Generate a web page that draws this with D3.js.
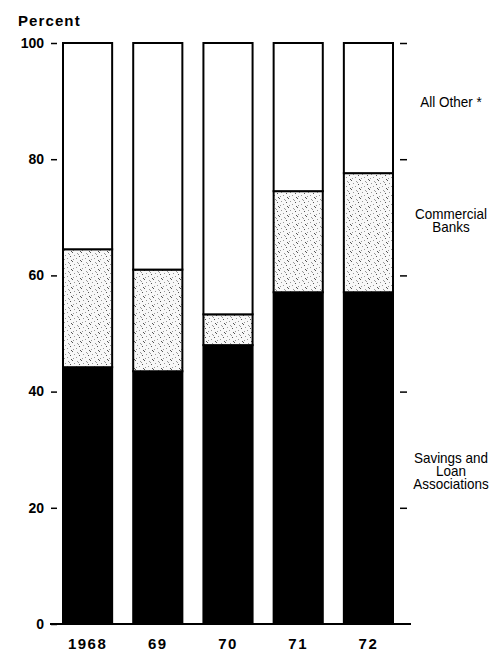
<!DOCTYPE html>
<html lang="en">
<head>
<meta charset="utf-8">
<title>Percent by lender</title>
<script src="https://d3js.org/d3.v7.min.js"></script>
<style>
  body { margin: 0; background: white; }
  .tick text { font-family: "Liberation Sans", Arial, sans-serif; font-size: 14px; font-weight: bold; fill: black; }
  .legend { font-family: "Liberation Sans", Arial, sans-serif; font-size: 15px; fill: black; }
</style>
</head>
<body>
<div id="main"></div>
<script>
var width = 493, height = 651;

var years = ["1968", "69", "70", "71", "72"];
var savingsLoan = [44.2, 43.5, 48.0, 57.1, 57.1];
var commercialBanks = [20.3, 17.5, 5.3, 17.4, 20.5];
var allOther = [35.5, 39.0, 46.7, 25.5, 22.4];
var yTicks = [0, 20, 40, 60, 80, 100];
var legendLines = [["All Other *"], ["Commercial", "Banks"], ["Savings and", "Loan", "Associations"]];
var legendAt = [90, 69.5, 26.5]; // percent level of each label's centre

var svg = d3.select("#main").append("svg")
    .attr("width", width).attr("height", height);

// light stipple for the commercial bank share
var defs = svg.append("defs");
var pat = defs.append("pattern").attr("id", "stip")
    .attr("width", 9).attr("height", 9).attr("patternUnits", "userSpaceOnUse");
pat.append("rect").attr("width", 9).attr("height", 9).attr("fill", "#f8f8f8");
[[0, 0], [5, 1], [2, 3], [7, 4], [4, 6], [1, 7], [8, 8], [6, 2]].forEach(function (p, i) {
  pat.append("rect").attr("x", p[0]).attr("y", p[1]).attr("width", 1).attr("height", 1)
     .attr("fill", i % 3 ? "#999" : "#555");
});

var x = d3.scaleBand().domain(years).range([63, 393]).paddingInner(0.3).paddingOuter(0);
var y = d3.scaleLinear().domain([0, 100]).range([624, 43]);

var rows = years.map(function (yr, i) {
  var s = savingsLoan[i], c = commercialBanks[i];
  return [
    {year: yr, y0: 0, y1: s, fill: "black"},
    {year: yr, y0: s, y1: s + c, fill: "url(#stip)"},
    {year: yr, y0: s + c, y1: 100, fill: "white"}
  ];
});

svg.append("text").attr("x", 18).attr("y", 26)
    .attr("font-family", "Liberation Sans, Arial, sans-serif")
    .attr("font-size", 15).attr("font-weight", "bold").attr("letter-spacing", 1.1)
    .text("Percent");

var bars = svg.append("g").selectAll("g").data(rows).enter().append("g");
bars.selectAll("rect").data(function (d) { return d; }).enter().append("rect")
    .attr("x", function (d) { return x(d.year); })
    .attr("width", x.bandwidth())
    .attr("y", function (d) { return y(d.y1); })
    .attr("height", function (d) { return y(d.y0) - y(d.y1); })
    .attr("fill", function (d) { return d.fill; })
    .attr("stroke", "black").attr("stroke-width", 2);

// left axis
var gl = svg.append("g").attr("transform", "translate(57,0)")
    .call(d3.axisLeft(y).tickValues(yTicks).tickSize(6).tickPadding(7).tickFormat(d3.format("d")));
gl.select(".domain").remove();
gl.selectAll(".tick line").attr("stroke", "black").attr("stroke-width", 1.5);
gl.selectAll(".tick text").attr("dy", "0.3em").attr("font-size", 15);

// right axis, marks only
var gr = svg.append("g").attr("transform", "translate(400,0)")
    .call(d3.axisRight(y).tickValues(yTicks.slice(1)).tickSize(7).tickFormat(""));
gr.select(".domain").remove();
gr.selectAll(".tick line").attr("stroke", "black").attr("stroke-width", 1.5);

// baseline
svg.append("line")
    .attr("x1", x.range()[0] - 13).attr("x2", x.range()[1] + 18)
    .attr("y1", y(0)).attr("y2", y(0))
    .attr("stroke", "black").attr("stroke-width", 2);

// year labels
svg.append("g").selectAll("text").data(years).enter().append("text")
    .attr("x", function (d) { return x(d) + x.bandwidth() / 2; })
    .attr("y", 649)
    .attr("text-anchor", "middle")
    .attr("font-family", "Liberation Sans, Arial, sans-serif")
    .attr("font-size", 15).attr("font-weight", "bold").attr("letter-spacing", 1.5)
    .text(function (d) { return d; });

// legend labels on the right, narrowed to look condensed
legendLines.forEach(function (lines, i) {
  var cy = y(legendAt[i]) - (lines.length - 1) * 6.5;
  var t = svg.append("text").attr("class", "legend").attr("text-anchor", "middle")
      .attr("transform", "translate(451," + cy + ") scale(0.9,1)");
  lines.forEach(function (ln, j) {
    t.append("tspan").attr("x", 0).attr("y", j * 13 + 5.5).text(ln);
  });
});
</script>
</body>
</html>
